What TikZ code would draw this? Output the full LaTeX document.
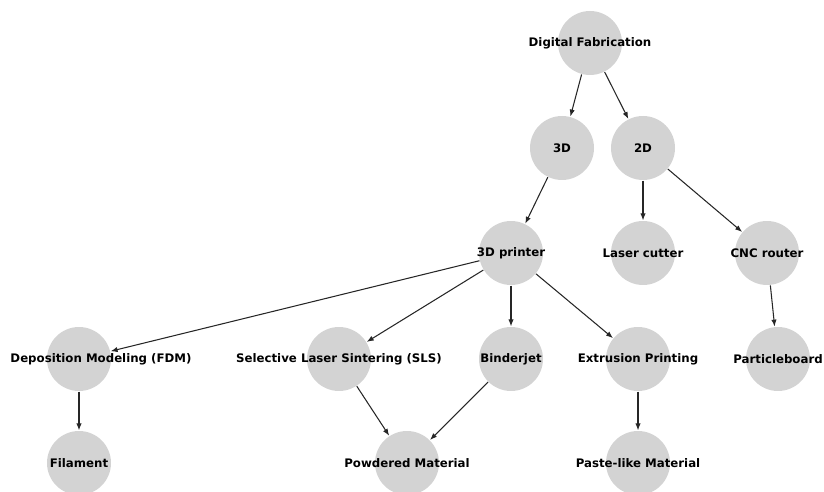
\documentclass[tikz,border=0pt]{standalone}
\usepackage{fontspec}
\setmainfont{DejaVu Sans}
\usepackage{tikz}
\usetikzlibrary{arrows.meta}
\definecolor{nodegray}{HTML}{D3D3D3}
\tikzset{
    vertex/.style={
           circle,
           fill=nodegray,
           draw=none,
           minimum size=1.28cm,
           inner sep=0pt,
           },
    every label/.style={
           font=\fontsize{6.7}{7}\selectfont\bfseries,
           text=black,
           inner sep=0pt,
           },
}

\begin{document}
\begin{tikzpicture}[x=0.02cm, y=-0.02cm, ->, >={Latex[length=4pt,width=3pt]}, line width=0.6pt, draw=black!85]
  \useasboundingbox (0,0) rectangle (824,492);

  \node[vertex, label={center:Digital Fabrication}]              (Fab)       at (590,43)  {};
  \node[vertex, label={center:3D}]                               (ThreeD)    at (562,148) {};
  \node[vertex, label={center:2D}]                               (TwoD)      at (643,148) {};
  \node[vertex, label={center:3D printer}]                       (Printer)   at (511,253) {};
  \node[vertex, label={center:Laser cutter}]                     (Laser)     at (643,253) {};
  \node[vertex, label={center:CNC router}]                       (CNC)       at (767,253) {};
  \node[vertex, label={[xshift=0.44cm]center:Deposition Modeling (FDM)}] (FDM) at (79,359) {};
  \node[vertex, label={center:Selective Laser Sintering (SLS)}]  (SLS)       at (339,359) {};
  \node[vertex, label={center:Binderjet}]                        (Binder)    at (511,359) {};
  \node[vertex, label={center:Extrusion Printing}]               (Extrude)   at (638,359) {};
  \node[vertex, label={center:Particleboard}]                    (Board)     at (778,359) {};
  \node[vertex, label={center:Filament}]                         (Filament)  at (79,463)  {};
  \node[vertex, label={center:Powdered Material}]                (Powder)    at (407,463) {};
  \node[vertex, label={center:Paste-like Material}]              (Paste)     at (638,463) {};

% fabrication kinds
  \draw (Fab)      edge  (ThreeD);
  \draw (Fab)      edge  (TwoD);

% machines
  \draw (ThreeD)   edge  (Printer);
  \draw (TwoD)     edge  (Laser);
  \draw (TwoD)     edge  (CNC);

% printing processes
  \draw (Printer)  edge  (FDM);
  \draw (Printer)  edge  (SLS);
  \draw (Printer)  edge  (Binder);
  \draw (Printer)  edge  (Extrude);
  \draw (CNC)      edge  (Board);

% materials
  \draw (FDM)      edge  (Filament);
  \draw (SLS)      edge  (Powder);
  \draw (Binder)   edge  (Powder);
  \draw (Extrude)  edge  (Paste);

\end{tikzpicture}
\end{document}
